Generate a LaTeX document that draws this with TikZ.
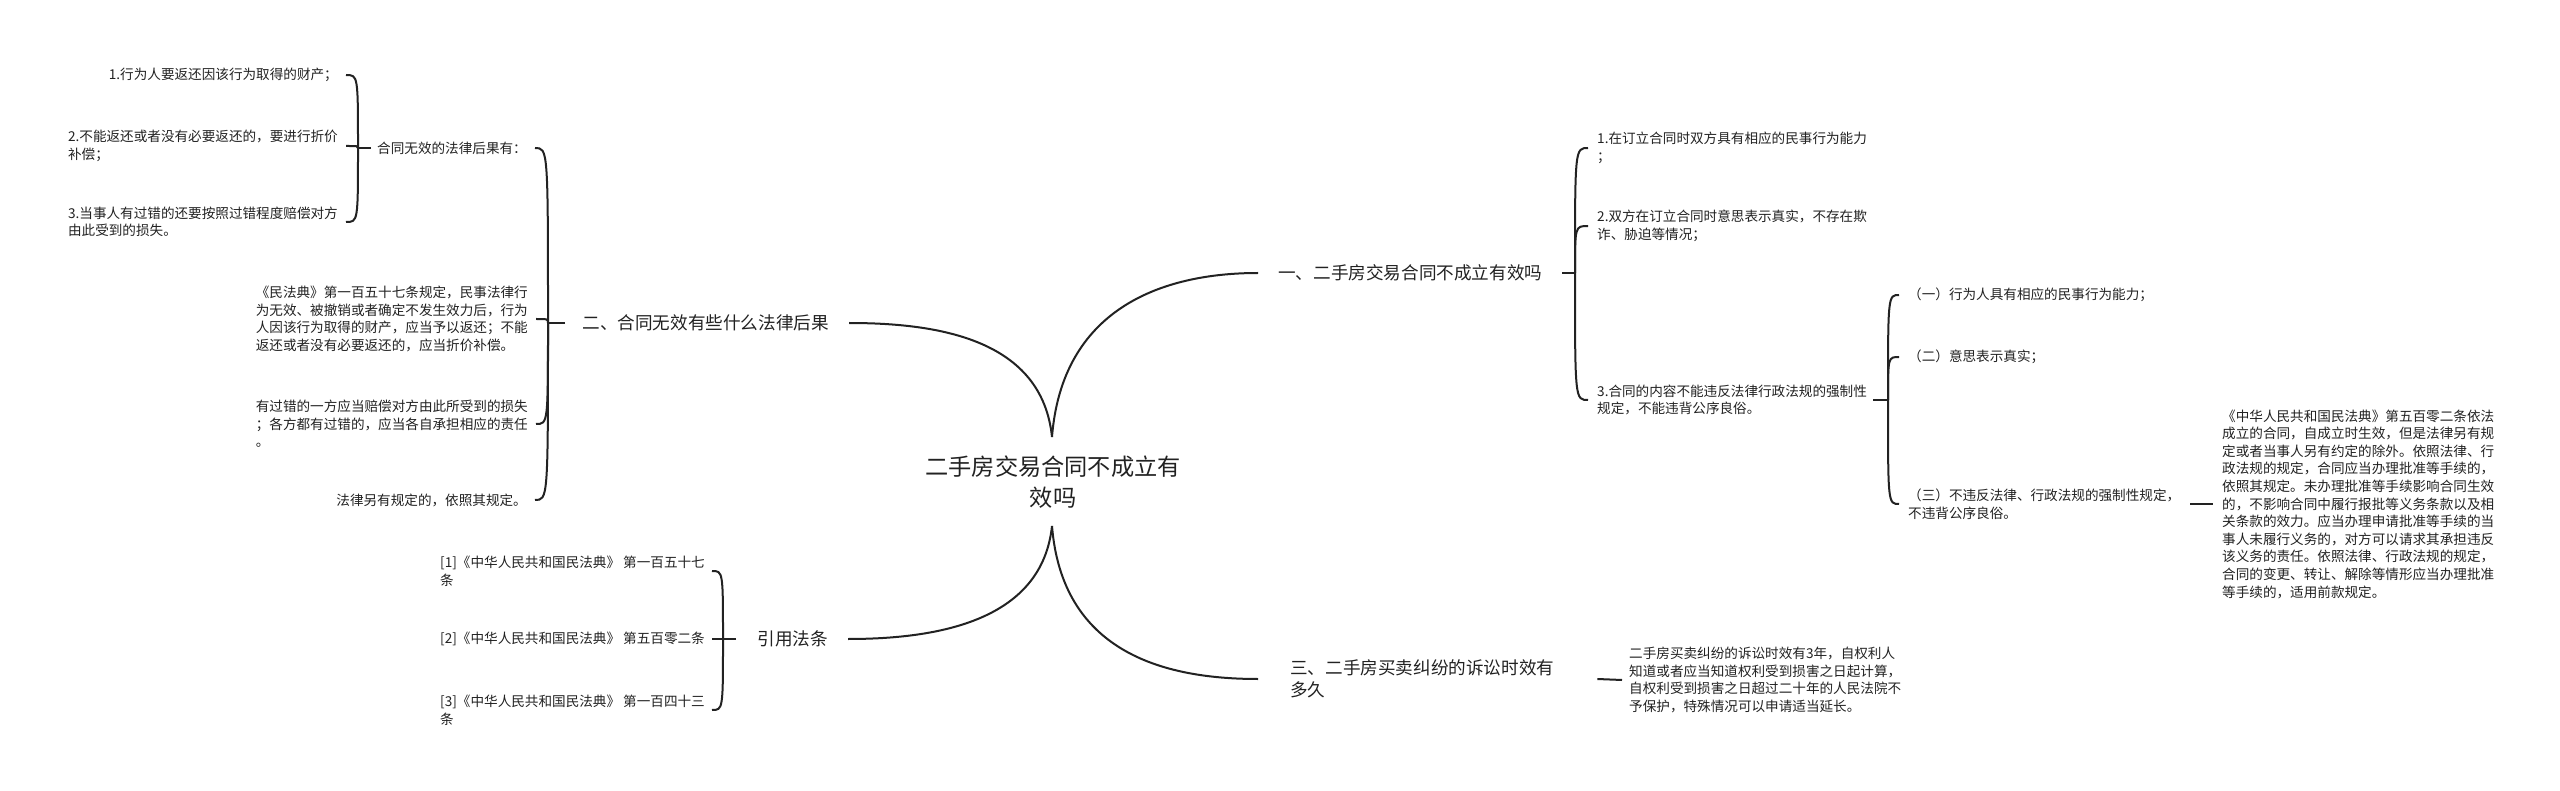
\documentclass[tikz,border=0pt]{standalone}
\usepackage{fontspec}
\newfontfamily\cjk{Noto Sans CJK SC}
\definecolor{ink}{RGB}{34,34,34}
\tikzset{
  conn/.style={draw=ink, line width=2pt},
  leaf/.style={font=\cjk\fontsize{13.6}{17.6}\selectfont, text=ink, inner sep=0pt, align=left},
  lone/.style={font=\cjk\fontsize{17.6}{22}\selectfont, text=ink, inner sep=0pt, align=left},
  rootn/.style={font=\cjk\fontsize{23.2}{31}\selectfont, text=ink, inner sep=0pt, align=center}
}
\begin{document}
\begin{tikzpicture}[x=1pt,y=-1pt]
\useasboundingbox[fill=white] (0,0) rectangle (2560,791);

% root
\node[rootn] (root) at (1053,482) {二手房交易合同不成立有\\效吗};
\coordinate (rt) at (1052,437);
\coordinate (rb) at (1052,526);

% level 1
\node[lone, anchor=west] (n1) at (1278,273) {一、二手房交易合同不成立有效吗};
\node[lone, anchor=east] (n2) at (829,323) {二、合同无效有些什么法律后果};
\node[lone, anchor=east] (n3) at (828,639) {引用法条};
\node[lone, anchor=west] (n4) at (1290,679) {三、二手房买卖纠纷的诉讼时效有\\多久};

\draw[conn] (rt) .. controls (1062,310) and (1160,273) .. ([xshift=-20pt]n1.west);
\draw[conn] (rt) .. controls (1042,340) and (940,323) .. ([xshift=20pt]n2.east);
\draw[conn] (rb) .. controls (1042,620) and (940,639) .. ([xshift=20pt]n3.east);
\draw[conn] (rb) .. controls (1062,650) and (1160,679) .. ([xshift=-32pt]n4.west);

% ---------- branch 一
\coordinate (b1) at (1575,273);
\draw[conn] ([xshift=20pt]n1.east) -- (b1);
\node[leaf, anchor=west] (f1) at (1597,148) {1.在订立合同时双方具有相应的民事行为能力\\；};
\node[leaf, anchor=west] (f2) at (1597,226) {2.双方在订立合同时意思表示真实，不存在欺\\诈、胁迫等情况；};
\node[leaf, anchor=west] (f3) at (1597,400) {3.合同的内容不能违反法律行政法规的强制性\\规定，不能违背公序良俗。};
\draw[conn] (b1) .. controls (b1 |- f1.west) .. ([xshift=-9pt]f1.west);
\draw[conn] (b1) .. controls (b1 |- f2.west) .. ([xshift=-9pt]f2.west);
\draw[conn] (b1) .. controls (b1 |- f3.west) .. ([xshift=-9pt]f3.west);

\coordinate (b2) at (1888,400);
\draw[conn] ([xshift=6pt]f3.east) -- (b2);
\node[leaf, anchor=west] (g1) at (1908,295) {（一）行为人具有相应的民事行为能力；};
\node[leaf, anchor=west] (g2) at (1908,357) {（二）意思表示真实；};
\node[leaf, anchor=west] (g3) at (1908,504) {（三）不违反法律、行政法规的强制性规定，\\不违背公序良俗。};
\draw[conn] (b2) .. controls (b2 |- g1.west) .. ([xshift=-9pt]g1.west);
\draw[conn] (b2) .. controls (b2 |- g2.west) .. ([xshift=-9pt]g2.west);
\draw[conn] (b2) .. controls (b2 |- g3.west) .. ([xshift=-9pt]g3.west);

\node[leaf, anchor=west] (h) at (2222,504) {《中华人民共和国民法典》第五百零二条依法\\成立的合同，自成立时生效，但是法律另有规\\定或者当事人另有约定的除外。依照法律、行\\政法规的规定，合同应当办理批准等手续的，\\依照其规定。未办理批准等手续影响合同生效\\的，不影响合同中履行报批等义务条款以及相\\关条款的效力。应当办理申请批准等手续的当\\事人未履行义务的，对方可以请求其承担违反\\该义务的责任。依照法律、行政法规的规定，\\合同的变更、转让、解除等情形应当办理批准\\等手续的，适用前款规定。};
\draw[conn] ([xshift=10pt]g3.east) -- ([xshift=-9pt]h.west);

% ---------- branch 三
\node[leaf, anchor=west] (i) at (1629,680) {二手房买卖纠纷的诉讼时效有3年，自权利人\\知道或者应当知道权利受到损害之日起计算，\\自权利受到损害之日超过二十年的人民法院不\\予保护，特殊情况可以申请适当延长。};
\draw[conn] ([xshift=43pt]n4.east) -- ([xshift=-7pt]i.west);

% ---------- branch 二
\coordinate (b3) at (548,323);
\draw[conn] ([xshift=-17pt]n2.west) -- (b3);
\node[leaf, anchor=east] (c1) at (527,148) {合同无效的法律后果有：};
\node[leaf, anchor=east] (c2) at (528,319) {《民法典》第一百五十七条规定，民事法律行\\为无效、被撤销或者确定不发生效力后，行为\\人因该行为取得的财产，应当予以返还；不能\\返还或者没有必要返还的，应当折价补偿。};
\node[leaf, anchor=east] (c3) at (528,424) {有过错的一方应当赔偿对方由此所受到的损失\\；各方都有过错的，应当各自承担相应的责任\\。};
\node[leaf, anchor=east] (c4) at (527,500) {法律另有规定的，依照其规定。};
\draw[conn] (b3) .. controls (b3 |- c1.east) .. ([xshift=8pt]c1.east);
\draw[conn] (b3) .. controls (b3 |- c2.east) .. ([xshift=8pt]c2.east);
\draw[conn] (b3) .. controls (b3 |- c3.east) .. ([xshift=8pt]c3.east);
\draw[conn] (b3) .. controls (b3 |- c4.east) .. ([xshift=8pt]c4.east);

\coordinate (b4) at (358,148);
\draw[conn] ([xshift=-6pt]c1.west) -- (b4);
\node[leaf, anchor=east] (d1) at (338,75) {1.行为人要返还因该行为取得的财产；};
\node[leaf, anchor=east] (d2) at (338,146) {2.不能返还或者没有必要返还的，要进行折价\\补偿；};
\node[leaf, anchor=east] (d3) at (338,222) {3.当事人有过错的还要按照过错程度赔偿对方\\由此受到的损失。};
\draw[conn] (b4) .. controls (b4 |- d1.east) .. ([xshift=8pt]d1.east);
\draw[conn] (b4) .. controls (b4 |- d2.east) .. ([xshift=8pt]d2.east);
\draw[conn] (b4) .. controls (b4 |- d3.east) .. ([xshift=8pt]d3.east);

% ---------- 引用法条
\coordinate (b5) at (723,639);
\draw[conn] ([xshift=-21pt]n3.west) -- (b5);
\node[leaf, anchor=east] (e1) at (705,571) {[1]《中华人民共和国民法典》~第一百五十七\\条};
\node[leaf, anchor=east] (e2) at (705,639) {[2]《中华人民共和国民法典》~第五百零二条};
\node[leaf, anchor=east] (e3) at (705,710) {[3]《中华人民共和国民法典》~第一百四十三\\条};
\draw[conn] (b5) .. controls (b5 |- e1.east) .. ([xshift=7pt]e1.east);
\draw[conn] (b5) -- ([xshift=7pt]e2.east);
\draw[conn] (b5) .. controls (b5 |- e3.east) .. ([xshift=7pt]e3.east);
\end{tikzpicture}
\end{document}
